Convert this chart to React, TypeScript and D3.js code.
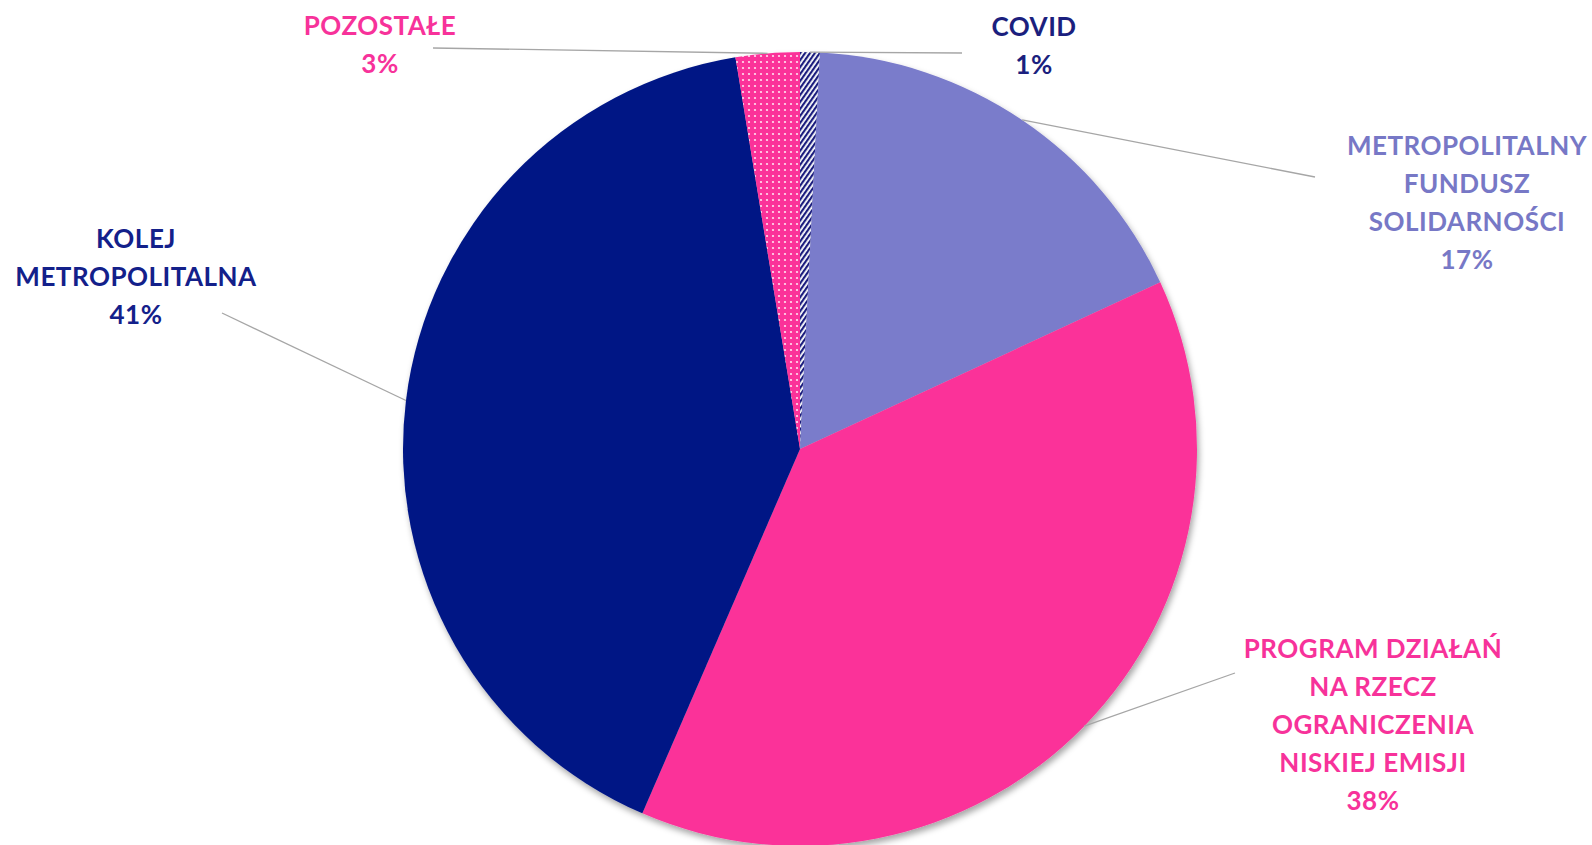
import React, { useEffect, useRef } from 'react';
import * as d3 from 'd3';

// shares of the budget, clockwise from 12 o'clock
const categories = ['COVID', 'METROPOLITALNY FUNDUSZ SOLIDARNOŚCI', 'PROGRAM DZIAŁAŃ NA RZECZ OGRANICZENIA NISKIEJ EMISJI', 'KOLEJ METROPOLITALNA', 'POZOSTAŁE'];
const shares = [0.8, 17.3, 38.4, 40.9, 2.6];
const labelLines = [
  ['COVID'],
  ['METROPOLITALNY', 'FUNDUSZ', 'SOLIDARNOŚCI'],
  ['PROGRAM DZIAŁAŃ', 'NA RZECZ', 'OGRANICZENIA', 'NISKIEJ EMISJI'],
  ['KOLEJ', 'METROPOLITALNA'],
  ['POZOSTAŁE'],
];
const fills = ['url(#hatch)', '#7A7BCB', '#FB3399', '#001785', 'url(#dots)'];
const textColors = ['#1B1F7E', '#7778C6', '#F7329A', '#13208A', '#F7329A'];

// label layout: text centre x, first baseline y, leader line end
const labelPos = [
  { x: 1034, y: 36, lx: 962, ly: 53 },
  { x: 1467, y: 155, lx: 1315, ly: 177 },
  { x: 1373, y: 658, lx: 1235, ly: 673 },
  { x: 136, y: 248, lx: 222, ly: 313 },
  { x: 380, y: 35, lx: 433, ly: 48 },
];

export default function App() {
  const ref = useRef<SVGSVGElement>(null);
  const width = 1592;
  const height = 845;
  const cx = 800, cy = 449, r = 397;
  const lineH = 38;

  useEffect(() => {
    const svg = d3.select(ref.current);
    svg.selectAll('*').remove();

    const defs = svg.append('defs');
    const hatch = defs.append('pattern')
      .attr('id', 'hatch')
      .attr('patternUnits', 'userSpaceOnUse')
      .attr('width', 4).attr('height', 4)
      .attr('patternTransform', 'rotate(35)');
    hatch.append('rect').attr('width', 4).attr('height', 4).attr('fill', '#ffffff');
    hatch.append('rect').attr('width', 2.2).attr('height', 4).attr('fill', '#1B1F7E');

    const dots = defs.append('pattern')
      .attr('id', 'dots')
      .attr('patternUnits', 'userSpaceOnUse')
      .attr('width', 6).attr('height', 6);
    dots.append('rect').attr('width', 6).attr('height', 6).attr('fill', '#FB3399');
    dots.append('circle').attr('cx', 3).attr('cy', 3).attr('r', 1.1).attr('fill', '#FFE0F0');

    const shadow = defs.append('filter').attr('id', 'shadow')
      .attr('x', '-10%').attr('y', '-10%').attr('width', '120%').attr('height', '120%');
    shadow.append('feDropShadow')
      .attr('dx', 2).attr('dy', 4).attr('stdDeviation', 3)
      .attr('flood-color', '#000').attr('flood-opacity', 0.35);

    const total = d3.sum(shares);
    const pie = d3.pie<number>().sort(null).value(d => d);
    const arcs = pie(shares);
    const arc = d3.arc<d3.PieArcDatum<number>>().innerRadius(0).outerRadius(r);

    const g = svg.append('g').attr('transform', `translate(${cx},${cy})`);
    g.append('g').attr('filter', 'url(#shadow)')
      .selectAll('path')
      .data(arcs)
      .join('path')
      .attr('d', arc)
      .attr('fill', (d, i) => fills[i]);

    // leader lines from the rim at mid angle to the label
    svg.append('g')
      .selectAll('line')
      .data(arcs)
      .join('line')
      .attr('x1', d => cx + r * Math.sin((d.startAngle + d.endAngle) / 2))
      .attr('y1', d => cy - r * Math.cos((d.startAngle + d.endAngle) / 2))
      .attr('x2', (d, i) => labelPos[i].lx)
      .attr('y2', (d, i) => labelPos[i].ly)
      .attr('stroke', '#A6A6A6')
      .attr('stroke-width', 1.3);

    const labels = svg.append('g')
      .style('font-family', 'Lato, "Open Sans", sans-serif')
      .style('font-weight', 700)
      .style('font-size', '26px')
      .style('letter-spacing', '0.5px')
      .attr('text-anchor', 'middle');

    categories.forEach((c, i) => {
      const lines = [...labelLines[i], `${Math.round((shares[i] / total) * 100)}%`];
      const t = labels.append('text')
        .attr('fill', textColors[i])
        .attr('x', labelPos[i].x)
        .attr('y', labelPos[i].y);
      lines.forEach((l, k) => {
        t.append('tspan')
          .attr('x', labelPos[i].x)
          .attr('y', labelPos[i].y + k * lineH)
          .text(l);
      });
    });
  }, []);

  return (
    <svg
      ref={ref}
      width={width}
      height={height}
      style={{ position: 'absolute', left: 0, top: 0, background: '#fff' }}
    />
  );
}
